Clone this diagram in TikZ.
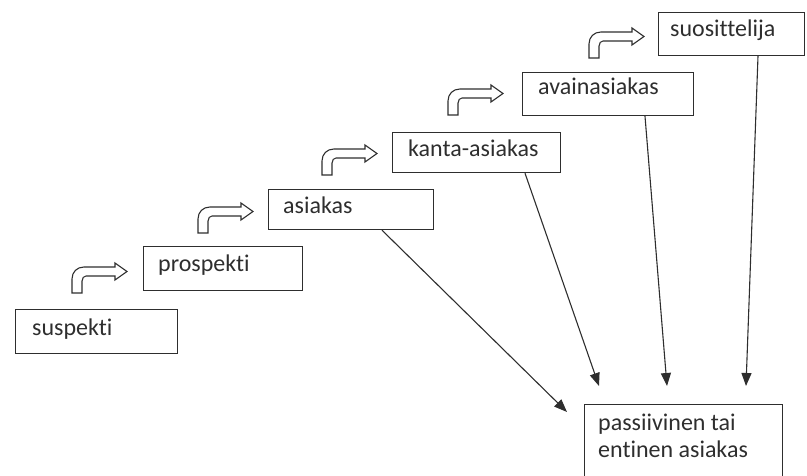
\documentclass[tikz,border=0pt]{standalone}
\usepackage{fontspec}
\setmainfont{Carlito}[Ligatures=NoCommon]
\usetikzlibrary{arrows.meta,calc}
\definecolor{ink}{HTML}{2E2E2E}
\tikzset{
  box/.style={draw=ink, line width=1.2pt, inner sep=0pt, anchor=north west},
  lbl/.style={anchor=base west, inner sep=0pt, text=ink, font=\fontsize{24}{27}\selectfont},
  conn/.style={draw=ink, line width=1.1pt, -{Triangle[length=13pt,width=10pt]}},
  bentarrow/.pic={
    \draw[ink, line width=1.1pt, line join=miter]
      (0,0) -- (0,-14) .. controls (0,-21) and (5,-26) .. (12,-26)
      -- (43,-26) -- (43,-30) -- (55,-21.5) -- (43,-13) -- (43,-17)
      -- (14,-17) .. controls (12,-17) and (10,-15) .. (10,-12) -- (10,0) -- cycle;
  }
}
\begin{document}
\begin{tikzpicture}[x=1pt,y=-1pt]
\useasboundingbox (0,0) rectangle (807,476);
\clip (0,0) rectangle (807,476);
% boxes
\node[box, minimum width=162pt, minimum height=44pt] (b1) at (15,309) {};
\node[box, minimum width=159pt, minimum height=44pt] (b2) at (143,246) {};
\node[box, minimum width=165pt, minimum height=40pt] (b3) at (268,189) {};
\node[box, minimum width=168pt, minimum height=40pt] (b4) at (392,132) {};
\node[box, minimum width=171pt, minimum height=43pt] (b5) at (522,72) {};
\node[box, minimum width=146pt, minimum height=43pt] (b6) at (658,12) {};
\node[box, minimum width=198pt, minimum height=80pt] (b7) at (584,404) {};
% labels
\node[lbl] (t1) at (32,335) {suspekti};
\node[lbl] (t2) at (158,272) {prospekti};
\node[lbl] (t3) at (283,214) {asiakas};
\node[lbl] (t4) at (408,157) {kanta-asiakas};
\node[lbl] (t5) at (538,95) {avainasiakas};
\node[lbl] (t6) at (670,37) {suosittelija};
\node[lbl] (t7a) at (598,430) {passiivinen tai};
\node[lbl] (t7b) at (598,457) {entinen asiakas};
% bent arrows
\pic at (72,293) {bentarrow};
\pic at (198,233) {bentarrow};
\pic at (322,175) {bentarrow};
\pic at (448,115) {bentarrow};
\pic at (589,58) {bentarrow};
% connectors
\coordinate (s3) at (b3.south -| 382,0);
\coordinate (s4) at (b4.south -| 525,0);
\coordinate (s5) at (b5.south -| 645,0);
\coordinate (s6) at (b6.south -| 758,0);
\coordinate (e3) at (567,412);
\coordinate (e4) at (599,386);
\coordinate (e5) at (667,386);
\coordinate (e6) at (746,386);
\draw[conn] (s3) -- (e3);
\draw[conn] (s4) -- (e4);
\draw[conn] (s5) -- (e5);
\draw[conn] (s6) -- (e6);
\end{tikzpicture}
\end{document}
